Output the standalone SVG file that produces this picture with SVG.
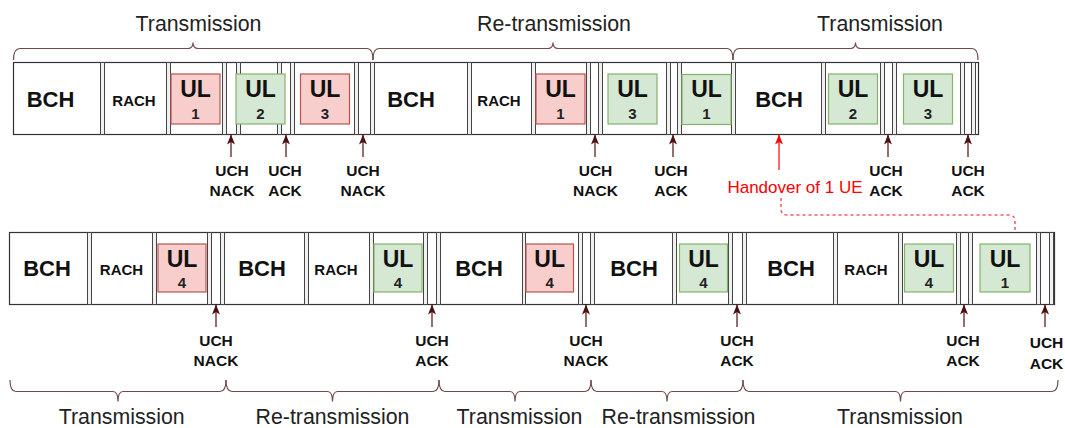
<svg xmlns="http://www.w3.org/2000/svg" width="1065" height="428" viewBox="0 0 1065 428">
  <style>
    .row { fill: #ffffff; stroke: #333333; stroke-width: 1.2; }
    .sep { fill: #f0f0f0; stroke: #444444; stroke-width: 1; }
    .ok { fill: #d5e8d4; stroke: #82b366; stroke-width: 1.2; }
    .bad { fill: #f8cecc; stroke: #b85450; stroke-width: 1.2; }
    .bch { font: bold 22px "Liberation Sans", Arial, sans-serif; fill: #111111; text-anchor: middle; }
    .rach { font: bold 15px "Liberation Sans", Arial, sans-serif; fill: #111111; text-anchor: middle; }
    .ul { font: bold 23px "Liberation Sans", Arial, sans-serif; fill: #111111; text-anchor: middle; }
    .num { font: bold 15px "Liberation Sans", Arial, sans-serif; fill: #222222; text-anchor: middle; }
    .uch { font: bold 15.5px "Liberation Sans", Arial, sans-serif; fill: #111111; text-anchor: middle; }
    .phase { font: 21.3px "Liberation Sans", Arial, sans-serif; fill: #222222; text-anchor: middle; }
    .ho { font: 17px "Liberation Sans", Arial, sans-serif; fill: #ff0000; text-anchor: middle; }
    .brace { fill: none; stroke: #6f4a4a; stroke-width: 1.2; }
    .fb { fill: none; stroke: #4d1010; stroke-width: 1.2; marker-end: url(#fbHead); }
    .hand { fill: none; stroke: #ff0000; stroke-width: 1.2; marker-end: url(#redHead); }
    .link { fill: none; stroke: #f25c5c; stroke-width: 1.5; stroke-dasharray: 3 3; }
  </style>
  <defs>
    <marker id="fbHead" markerUnits="userSpaceOnUse" markerWidth="10" markerHeight="8" refX="10" refY="4" orient="auto">
      <path d="M0,0 L10,4 L0,8 L2.5,4 z" fill="#4d1010"/>
    </marker>
    <marker id="redHead" markerUnits="userSpaceOnUse" markerWidth="10" markerHeight="8" refX="10" refY="4" orient="auto">
      <path d="M0,0 L10,4 L0,8 L2.5,4 z" fill="#ff0000"/>
    </marker>
  </defs>

  <!-- upper frame sequence -->
  <g id="upper-row">
    <rect class="row" x="13.5" y="62.5" width="965" height="72"/>
    <g id="upper-guards">
      <rect class="sep" x="100.5" y="62.5" width="4" height="72"/>
      <rect class="sep" x="166.5" y="62.5" width="4" height="72"/>
      <rect class="sep" x="222.5" y="62.5" width="4" height="72"/>
      <rect class="sep" x="236.5" y="62.5" width="4" height="72"/>
      <rect class="sep" x="277.5" y="62.5" width="4" height="72"/>
      <rect class="sep" x="290.5" y="62.5" width="4" height="72"/>
      <rect class="sep" x="354.5" y="62.5" width="4" height="72"/>
      <rect class="sep" x="370.5" y="62.5" width="4" height="72"/>
      <rect class="sep" x="467.5" y="62.5" width="4" height="72"/>
      <rect class="sep" x="531.5" y="62.5" width="4" height="72"/>
      <rect class="sep" x="586.5" y="62.5" width="4" height="72"/>
      <rect class="sep" x="598.5" y="62.5" width="4" height="72"/>
      <rect class="sep" x="666.5" y="62.5" width="4" height="72"/>
      <rect class="sep" x="677.5" y="62.5" width="4" height="72"/>
      <rect class="sep" x="731.5" y="62.5" width="4" height="72"/>
      <rect class="sep" x="821.5" y="62.5" width="4" height="72"/>
      <rect class="sep" x="880.5" y="62.5" width="4" height="72"/>
      <rect class="sep" x="892.5" y="62.5" width="4" height="72"/>
      <rect class="sep" x="960.5" y="62.5" width="4" height="72"/>
      <rect class="sep" x="971.5" y="62.5" width="4" height="72"/>
    </g>
  </g>

  <g id="u-bch-1"><text class="bch" x="50.5" y="107">BCH</text></g>
  <g id="u-rach-1"><text class="rach" x="134" y="106">RACH</text></g>
  <g id="u-ul1-a"><rect class="bad" x="171" y="74" width="49" height="50"/><text class="ul" x="195.5" y="96.7">UL</text><text class="num" x="195.5" y="118.5">1</text></g>
  <g id="u-ul2-a"><rect class="ok" x="236" y="74" width="49" height="50"/><text class="ul" x="260.5" y="96.7">UL</text><text class="num" x="260.5" y="118.5">2</text></g>
  <g id="u-ul3-a"><rect class="bad" x="300.5" y="74" width="49" height="50"/><text class="ul" x="325" y="96.7">UL</text><text class="num" x="325" y="118.5">3</text></g>
  <g id="u-bch-2"><text class="bch" x="411" y="107">BCH</text></g>
  <g id="u-rach-2"><text class="rach" x="499" y="106">RACH</text></g>
  <g id="u-ul1-b"><rect class="bad" x="536" y="74" width="49" height="50"/><text class="ul" x="560.5" y="96.7">UL</text><text class="num" x="560.5" y="118.5">1</text></g>
  <g id="u-ul3-b"><rect class="ok" x="608" y="74" width="49" height="50"/><text class="ul" x="632.5" y="96.7">UL</text><text class="num" x="632.5" y="118.5">3</text></g>
  <g id="u-ul1-c"><rect class="ok" x="682" y="74.5" width="49" height="50"/><text class="ul" x="706.5" y="97">UL</text><text class="num" x="706.5" y="119">1</text></g>
  <g id="u-bch-3"><text class="bch" x="779" y="107">BCH</text></g>
  <g id="u-ul2-b"><rect class="ok" x="828.5" y="74" width="49" height="50"/><text class="ul" x="853" y="96.7">UL</text><text class="num" x="853" y="118.5">2</text></g>
  <g id="u-ul3-c"><rect class="ok" x="903.5" y="74" width="49" height="50"/><text class="ul" x="928" y="96.7">UL</text><text class="num" x="928" y="118.5">3</text></g>

  <!-- lower frame sequence -->
  <g id="lower-row">
    <rect class="row" x="9.5" y="232.5" width="1045" height="72"/>
    <g id="lower-guards">
      <rect class="sep" x="87.5" y="232.5" width="4" height="72"/>
      <rect class="sep" x="152.5" y="232.5" width="4" height="72"/>
      <rect class="sep" x="207.5" y="232.5" width="4" height="72"/>
      <rect class="sep" x="220.5" y="232.5" width="4" height="72"/>
      <rect class="sep" x="304.5" y="232.5" width="4" height="72"/>
      <rect class="sep" x="369.5" y="232.5" width="4" height="72"/>
      <rect class="sep" x="423.5" y="232.5" width="4" height="72"/>
      <rect class="sep" x="436.5" y="232.5" width="4" height="72"/>
      <rect class="sep" x="522.5" y="232.5" width="3" height="72"/>
      <rect class="sep" x="578.5" y="232.5" width="4" height="72"/>
      <rect class="sep" x="590.5" y="232.5" width="4" height="72"/>
      <rect class="sep" x="672.5" y="232.5" width="4" height="72"/>
      <rect class="sep" x="728.5" y="232.5" width="4" height="72"/>
      <rect class="sep" x="742.5" y="232.5" width="4" height="72"/>
      <rect class="sep" x="833.5" y="232.5" width="4" height="72"/>
      <rect class="sep" x="898.5" y="232.5" width="4" height="72"/>
      <rect class="sep" x="956.5" y="232.5" width="4" height="72"/>
      <rect class="sep" x="968.5" y="232.5" width="4" height="72"/>
      <rect class="sep" x="1036.5" y="232.5" width="4" height="72"/>
      <rect class="sep" x="1049.5" y="232.5" width="4" height="72"/>
    </g>
  </g>

  <g id="l-bch-1"><text class="bch" x="47" y="276">BCH</text></g>
  <g id="l-rach-1"><text class="rach" x="121.5" y="275">RACH</text></g>
  <g id="l-ul4-a"><rect class="bad" x="158" y="244" width="48" height="48"/><text class="ul" x="182" y="266.7">UL</text><text class="num" x="182" y="287.5">4</text></g>
  <g id="l-bch-2"><text class="bch" x="262" y="276">BCH</text></g>
  <g id="l-rach-2"><text class="rach" x="336" y="275">RACH</text></g>
  <g id="l-ul4-b"><rect class="ok" x="374" y="244" width="48" height="48"/><text class="ul" x="398" y="266.7">UL</text><text class="num" x="398" y="287.5">4</text></g>
  <g id="l-bch-3"><text class="bch" x="479" y="276">BCH</text></g>
  <g id="l-ul4-c"><rect class="bad" x="526" y="244" width="47.5" height="48"/><text class="ul" x="549.7" y="266.7">UL</text><text class="num" x="549.7" y="287.5">4</text></g>
  <g id="l-bch-4"><text class="bch" x="634" y="276">BCH</text></g>
  <g id="l-ul4-d"><rect class="ok" x="679.5" y="244" width="48" height="48"/><text class="ul" x="703.5" y="266.7">UL</text><text class="num" x="703.5" y="287.5">4</text></g>
  <g id="l-bch-5"><text class="bch" x="791" y="276">BCH</text></g>
  <g id="l-rach-5"><text class="rach" x="866" y="275">RACH</text></g>
  <g id="l-ul4-e"><rect class="ok" x="904.5" y="244" width="49" height="48"/><text class="ul" x="929" y="266.7">UL</text><text class="num" x="929" y="287.5">4</text></g>
  <g id="l-ul1"><rect class="ok" x="980" y="244" width="50" height="48"/><text class="ul" x="1005" y="266.7">UL</text><text class="num" x="1005" y="287.5">1</text></g>

  <!-- phase braces and captions -->
  <g id="phases-upper">
    <path class="brace" d="M13.5,60 Q13.5,48.5 20,48.5 H188 Q193,48.5 193,42.5 Q193,48.5 198,48.5 H367 Q373,48.5 373,60"/>
    <path class="brace" d="M373,60 Q373,48.5 379,48.5 H548 Q553,48.5 553,42.5 Q553,48.5 558,48.5 H727 Q733,48.5 733,60"/>
    <path class="brace" d="M733,60 Q733,48.5 739,48.5 H850.5 Q855.5,48.5 855.5,42.5 Q855.5,48.5 860.5,48.5 H972 Q978,48.5 978,60"/>
    <text class="phase" x="198.5" y="31">Transmission</text>
    <text class="phase" x="554" y="31">Re-transmission</text>
    <text class="phase" x="880" y="31">Transmission</text>
  </g>
  <g id="phases-lower">
    <path class="brace" d="M10,380 Q10,391.5 16,391.5 H113 Q118,391.5 118,401.5 Q118,391.5 123,391.5 H220 Q226,391.5 226,380"/>
    <path class="brace" d="M226,380 Q226,391.5 232,391.5 H327.5 Q332.5,391.5 332.5,401.5 Q332.5,391.5 337.5,391.5 H433 Q439,391.5 439,380"/>
    <path class="brace" d="M439,380 Q439,391.5 445,391.5 H510 Q515,391.5 515,401.5 Q515,391.5 520,391.5 H585 Q591,391.5 591,380"/>
    <path class="brace" d="M591,380 Q591,391.5 597,391.5 H662 Q667,391.5 667,401.5 Q667,391.5 672,391.5 H737 Q743,391.5 743,380"/>
    <path class="brace" d="M743,380 Q743,391.5 749,391.5 H895.5 Q900.5,391.5 900.5,401.5 Q900.5,391.5 905.5,391.5 H1052 Q1058,391.5 1058,380"/>
    <text class="phase" x="121.7" y="424">Transmission</text>
    <text class="phase" x="332.5" y="424">Re-transmission</text>
    <text class="phase" x="519.5" y="424">Transmission</text>
    <text class="phase" x="678.5" y="424">Re-transmission</text>
    <text class="phase" x="900" y="424">Transmission</text>
  </g>

  <!-- feedback labels -->
  <g id="feedback-labels">
    <text class="uch" x="232" y="176">UCH</text><text class="uch" x="232" y="196">NACK</text>
    <text class="uch" x="285" y="176">UCH</text><text class="uch" x="285" y="196">ACK</text>
    <text class="uch" x="363" y="176">UCH</text><text class="uch" x="363" y="196">NACK</text>
    <text class="uch" x="595.5" y="176">UCH</text><text class="uch" x="595.5" y="196">NACK</text>
    <text class="uch" x="671" y="176">UCH</text><text class="uch" x="671" y="196">ACK</text>
    <text class="uch" x="886" y="176">UCH</text><text class="uch" x="886" y="196">ACK</text>
    <text class="uch" x="968" y="176">UCH</text><text class="uch" x="968" y="196">ACK</text>
    <text class="uch" x="216" y="345.5">UCH</text><text class="uch" x="216" y="366">NACK</text>
    <text class="uch" x="432" y="345.5">UCH</text><text class="uch" x="432" y="366">ACK</text>
    <text class="uch" x="586" y="345.5">UCH</text><text class="uch" x="586" y="366">NACK</text>
    <text class="uch" x="737" y="345.5">UCH</text><text class="uch" x="737" y="366">ACK</text>
    <text class="uch" x="963" y="345.5">UCH</text><text class="uch" x="963" y="366">ACK</text>
    <text class="uch" x="1046.5" y="348">UCH</text><text class="uch" x="1046.5" y="368.5">ACK</text>
    <text class="ho" x="795" y="193">Handover of 1 UE</text>
  </g>

  <!-- connectors -->
  <g id="connectors">
    <path class="fb" d="M231,157 V134.5"/>
    <path class="fb" d="M286,157 V134.5"/>
    <path class="fb" d="M363,157 V134.5"/>
    <path class="fb" d="M595,157 V134.5"/>
    <path class="fb" d="M673,157 V134.5"/>
    <path class="fb" d="M888,157 V134.5"/>
    <path class="fb" d="M968,157 V134.5"/>
    <path class="fb" d="M216,327 V304.5"/>
    <path class="fb" d="M432,327 V304.5"/>
    <path class="fb" d="M586,327 V304.5"/>
    <path class="fb" d="M737,327 V304.5"/>
    <path class="fb" d="M964,327 V304.5"/>
    <path class="fb" d="M1045,327 V304.5"/>
    <path class="hand" d="M779,170 V134.5"/>
    <path class="link" d="M781,198 V209 Q781,215 787,215 H1009 Q1015,215 1015,221 V232"/>
  </g>
</svg>
